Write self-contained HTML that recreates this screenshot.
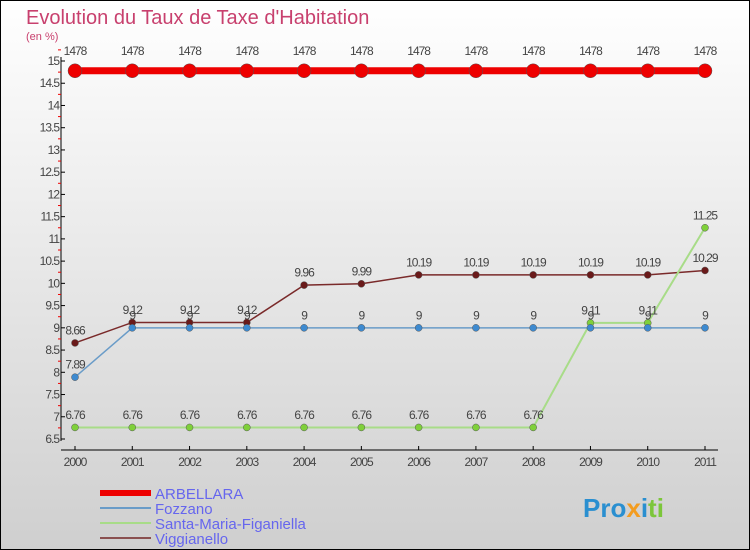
<!DOCTYPE html>
<html><head><meta charset="utf-8"><style>
body{margin:0;width:750px;height:550px;overflow:hidden}
svg{display:block;font-family:"Liberation Sans",sans-serif}
</style></head><body>
<svg id="c" width="750" height="550">
<defs><linearGradient id="bg" x1="0" y1="0" x2="0" y2="1"><stop offset="0" stop-color="#ffffff"/><stop offset="1" stop-color="#cfcfcf"/></linearGradient></defs>
<rect x="0.5" y="0.5" width="749" height="549" fill="url(#bg)" stroke="#000"/>
<text x="26" y="24" font-size="20" fill="#c8406e">Evolution du Taux de Taxe d'Habitation</text>
<text x="26" y="40" font-size="11" fill="#c8406e">(en %)</text>
<g id="axes"></g><g id="series"></g><g id="legend"></g>
<text x="583" y="517" font-size="26" font-weight="bold"><tspan fill="#2a8fd0">Pro</tspan><tspan fill="#f39c1f">x</tspan><tspan fill="#2a8fd0">i</tspan><tspan fill="#7cc63a">ti</tspan></text>
</svg>
<script>
const years=[2000,2001,2002,2003,2004,2005,2006,2007,2008,2009,2010,2011];
const yTicks=[6.5,7,7.5,8,8.5,9,9.5,10,10.5,11,11.5,12,12.5,13,13.5,14,14.5,15];
const names=["ARBELLARA","Fozzano","Santa-Maria-Figaniella","Viggianello"];
const arbellara=[14.78,14.78,14.78,14.78,14.78,14.78,14.78,14.78,14.78,14.78,14.78,14.78];
const fozzano=[7.89,9,9,9,9,9,9,9,9,9,9,9];
const santaMaria=[6.76,6.76,6.76,6.76,6.76,6.76,6.76,6.76,6.76,9.11,9.11,11.25];
const viggianello=[8.66,9.12,9.12,9.12,9.96,9.99,10.19,10.19,10.19,10.19,10.19,10.29];
const NS="http://www.w3.org/2000/svg";
function X(i){return 75+i*(630/(years.length-1));}
function Y(v){return 439-(v-6.5)*(378/8.5);}
function el(p,t,a){const e=document.createElementNS(NS,t);for(const k in a)e.setAttribute(k,a[k]);p.appendChild(e);return e;}
const ax=document.getElementById('axes');
let yl=el(ax,'line',{x1:61,y1:57,x2:61,y2:441,stroke:'#000'});


let xl=el(ax,'line',{x1:61,y1:450,x2:718,y2:450,stroke:'#000'});


yTicks.forEach(v=>{
 el(ax,'line',{x1:61,y1:Y(v),x2:65,y2:Y(v),stroke:'#000'});
 el(ax,'line',{x1:58,y1:Y(v+0.25),x2:61,y2:Y(v+0.25),stroke:'#e00'});
 const t=el(ax,'text',{x:59,y:Y(v)+4,'font-size':12,'text-anchor':'end',fill:'#444','letter-spacing':'-1'});
 t.textContent=String(v);
 
 
});
years.forEach((y,i)=>{
 el(ax,'line',{x1:X(i),y1:446,x2:X(i),y2:450,stroke:'#000'});
 const t=el(ax,'text',{x:X(i),y:466,'font-size':12,'text-anchor':'middle',fill:'#444','letter-spacing':'-1'});
 t.textContent=y;
 
 
});
const sg=document.getElementById('series');
const defs=[
 {d:viggianello,c:'#7a2a2a',fill:'#6a1a1a',w:1.5,r:3.5,lbl:["8.66","9.12","9.12","9.12","9.96","9.99","10.19","10.19","10.19","10.19","10.19","10.29"],n:'viggianello'},
 {d:santaMaria,c:'#a8dc88',fill:'#7fd03a',w:2,r:3.5,lbl:null,n:'santa-maria'},
 {d:fozzano,c:'#6a9cc8',fill:'#3d8ad0',w:1.5,r:3.5,lbl:null,n:'fozzano'},
 {d:arbellara,c:'#ee0000',fill:'#ee0000',w:7,r:7,lbl:null,n:'arbellara'}
];
defs.forEach(s=>{
 const pts=s.d.map((v,i)=>X(i)+','+Y(v)).join(' ');
 const pl=el(sg,'polyline',{points:pts,fill:'none',stroke:s.c,'stroke-width':s.w});
 
 
 s.d.forEach((v,i)=>{
  const c=el(sg,'circle',{cx:X(i),cy:Y(v),r:s.r,fill:s.fill,stroke:'#555','stroke-width':0.5});
  
  
  const t=el(sg,'text',{x:X(i),y:Y(v)-(s.r+5),'font-size':12,'text-anchor':'middle',fill:'#444','letter-spacing':'-1'});
  t.textContent=(s.n==='arbellara')?'1478':String(v).replace('.', '.');
  if(s.n==='arbellara')t.setAttribute('y',55);
  
  
 });
});
const lg=document.getElementById('legend');
const lc=['#ee0000','#6a9cc8','#a8dc88','#8a5050'],lw=[6,2,2,2];
names.forEach((n,i)=>{
 const y=493+i*15;
 const l=el(lg,'line',{x1:100,y1:y,x2:151,y2:y,stroke:lc[i],'stroke-width':lw[i]});
 
 
 const t=el(lg,'text',{x:155,y:y+6,'font-size':15,fill:'#6666ee'});
 t.textContent=n;
 
 
});
</script>
</body></html>
